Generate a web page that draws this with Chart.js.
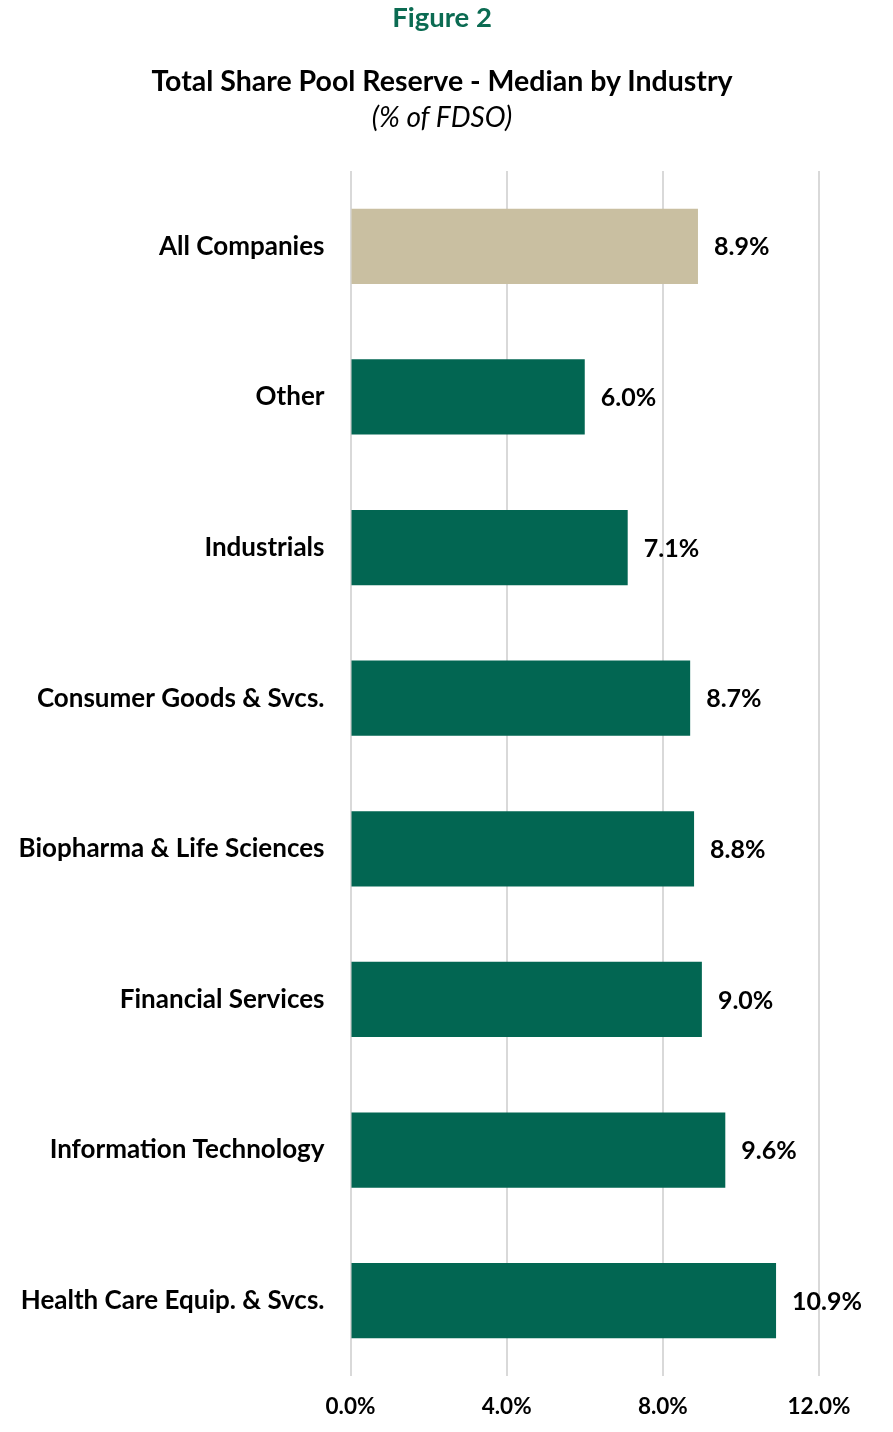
<!DOCTYPE html>
<html><head><meta charset="utf-8">
<script src="https://cdn.jsdelivr.net/npm/chart.js@4.4.1/dist/chart.umd.min.js"></script>
<style>
html,body{margin:0;padding:0;background:#fff;}
#wrap{position:relative;width:893px;height:1432px;}
.t{position:absolute;left:0;width:884px;text-align:center;font-family:Lato,"Open Sans",sans-serif;color:#000;line-height:1.2;white-space:nowrap;}
#fig{top:0px;font-size:27.5px;font-weight:bold;color:#0b6b52;}
#ttl{top:63px;font-size:28.5px;font-weight:bold;}
#sub{top:100px;font-size:28px;font-style:italic;}
#c{position:absolute;left:0;top:0;}
</style></head>
<body><div id="wrap">
<canvas id="c" width="893" height="1432"></canvas>
<div class="t" id="fig">Figure 2</div>
<div class="t" id="ttl">Total Share Pool Reserve - Median by Industry</div>
<div class="t" id="sub">(% of FDSO)</div>
</div>
<script>
const categories = ["All Companies","Other","Industrials","Consumer Goods & Svcs.","Biopharma & Life Sciences","Financial Services","Information Technology","Health Care Equip. & Svcs."];
const values = [8.9,6.0,7.1,8.7,8.8,9.0,9.6,10.9];
const tickValues = [0,4,8,12];
const barColors = categories.map((c,i)=> i===0 ? "#c9bfa1" : "#026652");

const FONT = 'Lato, "Open Sans", sans-serif';
const labelPlugin = {
  id:'valueLabels',
  afterDatasetsDraw(chart){
    const ctx = chart.ctx;
    const meta = chart.getDatasetMeta(0);
    ctx.save();
    ctx.font = 'bold 25px ' + FONT;
    ctx.fillStyle = '#000';
    ctx.textAlign = 'left';
    ctx.textBaseline = 'middle';
    meta.data.forEach((bar,i)=>{
      ctx.fillText(values[i].toFixed(1)+'%', bar.x + 16, bar.y + 1);
    });
    ctx.restore();
  }
};

new Chart(document.getElementById('c'),{
  type:'bar',
  data:{labels:categories,datasets:[{data:values,backgroundColor:barColors,categoryPercentage:1,barPercentage:0.5}]},
  options:{
    indexAxis:'y',responsive:false,animation:false,
    layout:{padding:{top:171,right:74,bottom:0,left:0}},
    plugins:{legend:{display:false},tooltip:{enabled:false}},
    scales:{
      x:{min:0,max:12,
        afterBuildTicks(s){s.ticks = tickValues.map(v=>({value:v}));},
        afterFit(s){s.height = 56;},
        grid:{color:'#d9d9d9',lineWidth:2,drawTicks:false},
        border:{display:false},
        ticks:{padding:17,color:'#000',font:{family:FONT,size:22.5,weight:'bold'},callback:v=>v.toFixed(1)+'%'}},
      y:{grid:{display:false,drawTicks:false},border:{display:false},
        afterFit(s){s.width=350.5;},
        ticks:{padding:26,color:'#000',font:{family:FONT,size:26,weight:'bold'}}}
    }
  },
  plugins:[labelPlugin]
});
</script></body></html>
